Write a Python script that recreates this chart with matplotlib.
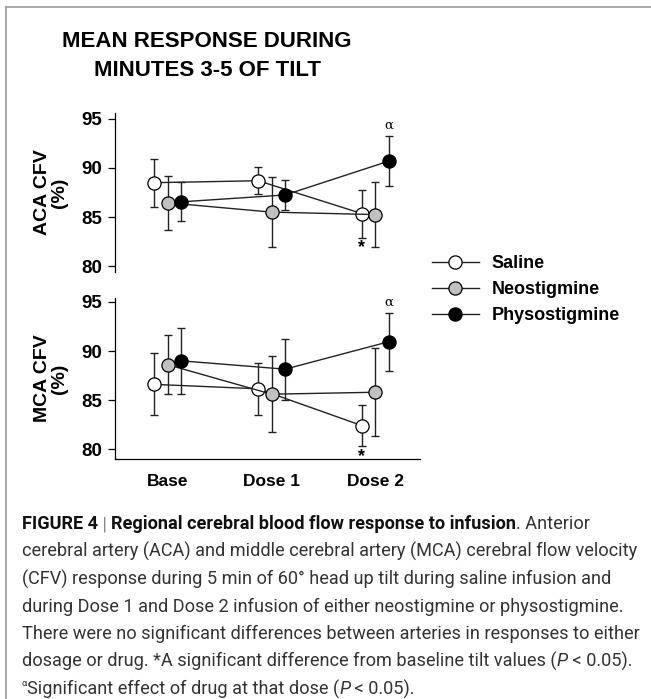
import matplotlib
matplotlib.use("Agg")
import matplotlib.pyplot as plt
from matplotlib.lines import Line2D

# =========================
# DATA
# =========================
groups = ["Base", "Dose 1", "Dose 2"]
series_names = ["Saline", "Neostigmine", "Physostigmine"]

aca_saline = [88.5, 88.7, 85.35]
aca_saline_err = [2.45, 1.4, 2.45]
aca_neo = [86.45, 85.5, 85.25]
aca_neo_err = [2.75, 3.6, 3.35]
aca_phys = [86.55, 87.25, 90.7]
aca_phys_err = [2.0, 1.5, 2.55]

mca_saline = [86.6, 86.15, 82.4]
mca_saline_err = [3.15, 2.65, 2.1]
mca_neo = [88.6, 85.6, 85.8]
mca_neo_err = [3.0, 3.85, 4.5]
mca_phys = [89.0, 88.15, 90.95]
mca_phys_err = [3.35, 3.1, 2.95]

yticks = [80, 85, 90, 95]

# =========================
# STYLE
# =========================
face_colors = ["white", "#c0c0c0", "black"]
offsets = [-0.13, 0.0, 0.13]
FONT = "Liberation Sans"

W, H = 651, 699
fig = plt.figure(figsize=(W / 100, H / 100), dpi=100)


def fx(px):
    return px / W


def fy(px):
    return 1 - px / H


def panel(ax, vals, errs, ylabel, show_x):
    x = list(range(len(groups)))
    handles = []
    for k in range(3):
        xs = [xi + offsets[k] for xi in x]
        ax.errorbar(xs, vals[k], yerr=errs[k], fmt="none", ecolor="#222222",
                    elinewidth=1.0, capsize=3.2, capthick=1.0, zorder=2 + k)
        h, = ax.plot(xs, vals[k], "-o", color="#222222", lw=1.0,
                     marker="o", ms=9.5, mfc=face_colors[k], mec="black",
                     mew=0.9, zorder=2.5 + k)
        handles.append(h)

    # significance marks at Dose 2
    ax.annotate("\u03b1", xy=(2 + offsets[2], vals[2][2] + errs[2][2]),
                xytext=(0, 3), textcoords="offset points", ha="center",
                va="bottom", fontsize=9.5, family="DejaVu Serif")
    ax.annotate("*", xy=(2 + offsets[0], vals[0][2] - errs[0][2]),
                xytext=(0, -1), textcoords="offset points", ha="center",
                va="top", fontsize=13, fontweight="bold", family=FONT)

    ax.set_xlim(-0.51, 2.43)
    ax.set_yticks(yticks)
    ax.set_yticklabels([str(t) for t in yticks], fontsize=13.5,
                       fontweight="bold", family=FONT)
    ax.tick_params(axis="y", direction="out", length=5, width=0.9, pad=4)
    ax.spines["top"].set_visible(False)
    ax.spines["right"].set_visible(False)
    ax.spines["left"].set_linewidth(0.9)
    ax.spines["bottom"].set_linewidth(0.9)
    if show_x:
        ax.set_xticks(x)
        ax.set_xticklabels(groups, fontsize=12.5, fontweight="bold", family=FONT)
        ax.tick_params(axis="x", length=0, pad=11)
    else:
        ax.spines["bottom"].set_visible(False)
        ax.set_xticks([])
    ax.set_ylabel(ylabel, fontsize=14, fontweight="bold", family=FONT,
                  linespacing=1.0, labelpad=10)
    ax.patch.set_alpha(0)
    return handles


# =========================
# AXES
# =========================
ax1 = fig.add_axes([fx(115), fy(272), fx(420) - fx(115), fy(113) - fy(272)])
ax1.set_ylim(79.4, 95.6)
handles = panel(ax1, [aca_saline, aca_neo, aca_phys],
                [aca_saline_err, aca_neo_err, aca_phys_err],
                "ACA CFV\n(%)", False)

ax2 = fig.add_axes([fx(115), fy(459), fx(420) - fx(115), fy(298) - fy(459)])
ax2.set_ylim(79.0, 95.4)
panel(ax2, [mca_saline, mca_neo, mca_phys],
      [mca_saline_err, mca_neo_err, mca_phys_err],
      "MCA CFV\n(%)", True)

# =========================
# TITLE + LEGEND
# =========================
fig.text(fx(207), fy(56), "MEAN RESPONSE DURING\nMINUTES 3-5 OF TILT",
         ha="center", va="center", fontsize=16, fontweight="bold",
         family=FONT, linespacing=1.5)

fig.legend(handles, series_names, loc="upper left",
           bbox_to_anchor=(fx(432), fy(255)), frameon=False,
           prop={"family": FONT, "weight": "bold", "size": 13},
           handlelength=2.6, handletextpad=0.7, labelspacing=0.5,
           borderpad=0, borderaxespad=0)

# =========================
# FRAME
# =========================
fig.add_artist(Line2D([fx(6), fx(6)], [0, fy(7)], color="#9a9a9a", lw=1.2))
fig.add_artist(Line2D([fx(6), 1], [fy(7), fy(7)], color="#9a9a9a", lw=1.2))

# =========================
# CAPTION
# =========================
CAP = "Roboto"
TXT = "#333333"
caption_lines = [
    [("FIGURE 4", "bold", "normal", "#111111"), (" | ", "normal", "normal", "#888888"),
     ("Regional cerebral blood flow response to infusion", "bold", "normal", "#111111"),
     (". Anterior", "normal", "normal", TXT)],
    [("cerebral artery (ACA) and middle cerebral artery (MCA) cerebral flow velocity", "normal", "normal", TXT)],
    [("(CFV) response during 5 min of 60\u00b0 head up tilt during saline infusion and", "normal", "normal", TXT)],
    [("during Dose 1 and Dose 2 infusion of either neostigmine or physostigmine.", "normal", "normal", TXT)],
    [("There were no significant differences between arteries in responses to either", "normal", "normal", TXT)],
    [("dosage or drug. *A significant difference from baseline tilt values (", "normal", "normal", TXT),
     ("P", "normal", "italic", TXT), (" < 0.05).", "normal", "normal", TXT)],
    [("\u03b1", "normal", "normal", TXT),
     ("Significant effect of drug at that dose (", "normal", "normal", TXT),
     ("P", "normal", "italic", TXT), (" < 0.05).", "normal", "normal", TXT)],
]
line_y = [522, 549.5, 577, 604.5, 632, 659.5, 687]

renderer = fig.canvas.get_renderer()


def draw_line(segs, y, size):
    x = 22
    arts = []
    for i, (s, wt, st, col) in enumerate(segs):
        sz = size
        yy = y
        if s == "\u03b1" and i == 0:
            sz = size * 0.5
            yy = y - 5
        t = fig.text(fx(x), fy(yy), s, fontsize=sz, fontweight=wt, fontstyle=st,
                     color=col, family=CAP, ha="left", va="center_baseline")
        bb = t.get_window_extent(renderer)
        x += bb.width
        arts.append(t)
    return arts, x


# fit font size so the second line spans the same width as in the figure
arts, xe = draw_line(caption_lines[1], line_y[1], 12)
for a in arts:
    a.remove()
cap_size = 12 * (635 - 22) / (xe - 22)

for segs, y in zip(caption_lines, line_y):
    draw_line(segs, y, cap_size)

fig.savefig("out.png", dpi=100)
